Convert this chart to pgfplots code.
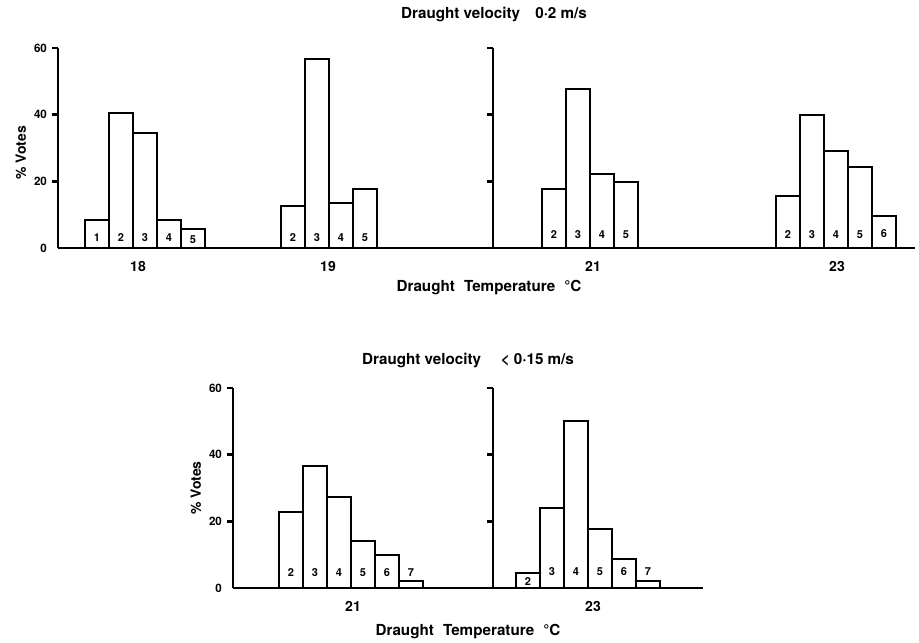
\documentclass[border=0pt]{standalone}
\usepackage{fontspec}
\setmainfont{TeX Gyre Heros}
\usepackage{pgfplots}
\usepackage{pgfplotstable}
\pgfplotsset{compat=1.18}

% x = bar centre (page px), y = % votes, ly = height of the number, lab = vote
\pgfplotstableread{
x y ly lab
97 8.5 3.1 1
121 40.6 3.1 2
145 34.4 3.1 3
169 8.5 3.1 4
193 5.7 2.6 5
}\topA
\pgfplotstableread{
x y ly lab
293 12.7 3.1 2
317 56.8 3.1 3
341 13.5 3.1 4
365 17.7 3.1 5
}\topB
\pgfplotstableread{
x y ly lab
554 17.8 4 2
578 47.7 4 3
602 22.3 4 4
626 19.7 4 5
}\topC
\pgfplotstableread{
x y ly lab
788 15.7 4 2
812 40 4 3
836 29 4 4
860 24.2 4 5
884 9.6 4.4 6
}\topD
\pgfplotstableread{
x y ly lab
291 22.7 4.5 2
315 36.7 4.5 3
339 27.4 4.5 4
363 14.2 4.5 5
387 10 4.5 6
411 2 4.5 7
}\botA
\pgfplotstableread{
x y ly lab
528 4.5 1.8 2
552 24 4.9 3
576 50 4.9 4
600 17.8 4.9 5
624 8.7 4.9 6
648 2 4.9 7
}\botB

\pgfplotsset{
  panel/.style={
    x=0.5pt, y=1.6667pt, ymin=0, ymax=60,
    enlargelimits=false, clip=false,
    axis lines=left,
    axis line style={line width=1.3pt, -},
    anchor=south west,
    ytick={20,40,60},
    tick align=outside,
    major tick length=3pt,
    ytick style={line width=1.2pt, black},
    xtick style={draw=none},
    /pgf/number format/assume math mode=true,
    yticklabel style={font=\fontsize{5.8}{6}\selectfont\bfseries, xshift=1pt},
    xticklabel style={font=\fontsize{7}{7}\selectfont\bfseries},
  },
  leftpanel/.style={
    panel,
    extra y ticks={0},
    extra y tick style={tick style={draw=none}},
    ylabel={\% Votes},
    ylabel style={at={(axis description cs:0,0.5)}, anchor=center,
      yshift=18.5pt, font=\fontsize{7}{7}\selectfont\bfseries},
  },
  rightpanel/.style={panel, yticklabels={}},
  bars/.style={ybar, bar width=24, draw=black, fill=white, line width=1pt},
  nums/.style={draw=none, mark=none, nodes near coords,
    point meta=explicit symbolic,
    nodes near coords style={anchor=center, inner sep=0pt, text=black,
      font=\fontsize{5.5}{6}\selectfont\bfseries}},
}

\newcommand{\lbl}{\fontsize{7.6}{8}\selectfont\bfseries}

\begin{document}
\begin{tikzpicture}
\path[use as bounding box] (0pt,0pt) rectangle (459.5pt,-321pt);

% top row, draught velocity 0.2 m/s
\begin{axis}[leftpanel, at={(29pt,-124pt)}, xmin=58, xmax=493,
  xtick={138,328}, xticklabels={18,19}, ylabel style={xshift=-2.5pt}]
  \addplot[bars] table[x=x, y=y] {\topA};
  \addplot[nums] table[x=x, y=ly, meta=lab] {\topA};
  \addplot[bars] table[x=x, y=y] {\topB};
  \addplot[nums] table[x=x, y=ly, meta=lab] {\topB};
\end{axis}
\begin{axis}[rightpanel, at={(246.5pt,-124pt)}, xmin=493, xmax=915,
  xtick={593,837}, xticklabels={21,23}]
  \addplot[bars] table[x=x, y=y] {\topC};
  \addplot[nums] table[x=x, y=ly, meta=lab] {\topC};
  \addplot[bars] table[x=x, y=y] {\topD};
  \addplot[nums] table[x=x, y=ly, meta=lab] {\topD};
\end{axis}
\node[font=\lbl] at (247pt,-7.5pt) {Draught velocity\hspace{1em}0·2 m/s};
\node[font=\lbl] at (244.5pt,-144pt) {Draught\hspace{0.6em}Temperature\hspace{0.6em}°C};

% bottom row, draught velocity < 0.15 m/s
\begin{axis}[leftpanel, at={(116.5pt,-294pt)}, xmin=233, xmax=493,
  xtick={353}, xticklabels={21}]
  \addplot[bars] table[x=x, y=y] {\botA};
  \addplot[nums] table[x=x, y=ly, meta=lab] {\botA};
\end{axis}
\begin{axis}[rightpanel, at={(246.5pt,-294pt)}, xmin=493, xmax=703,
  xtick={593}, xticklabels={23}]
  \addplot[bars] table[x=x, y=y] {\botB};
  \addplot[nums] table[x=x, y=ly, meta=lab] {\botB};
\end{axis}
\node[font=\lbl] at (234pt,-180pt) {Draught velocity\hspace{1.3em}< 0·15 m/s};
\node[font=\lbl] at (234pt,-316pt) {Draught\hspace{0.6em}Temperature\hspace{0.6em}°C};
\end{tikzpicture}
\end{document}
